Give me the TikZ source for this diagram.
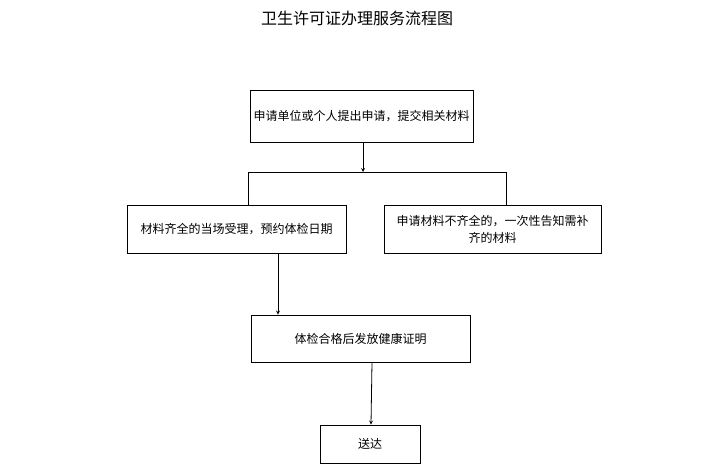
\documentclass[tikz,border=0pt]{standalone}
\usepackage{fontspec}
\setmainfont{Noto Sans CJK SC}
\usetikzlibrary{positioning}
\tikzset{
  stepbox/.style={draw, thick, minimum height=48pt, align=center, font=\fontsize{12}{17}\selectfont},
  arr/.style={thick,->,>=stealth}
}
\begin{document}
\begin{tikzpicture}[x=1pt,y=-1pt]
\useasboundingbox (0,0) rectangle (715,468);
\node (title) at (357,18) {\fontsize{16}{19}\selectfont 卫生许可证办理服务流程图};
\node[stepbox, minimum width=223pt, minimum height=52pt] (apply) at (361.5,116) {申请单位或个人提出申请，提交相关材料};
\node[stepbox, minimum width=219pt] (accept) at (236.5,229) {材料齐全的当场受理，预约体检日期};
\node[stepbox, minimum width=217pt] (notify) at (492.5,229) {申请材料不齐全的，一次性告知需补\\齐的材料};
\node[stepbox, minimum width=219pt, minimum height=47pt] (cert) at (360.5,338.5) {体检合格后发放健康证明};
\node[stepbox, minimum width=100pt, minimum height=38pt] (send) at (370,444) {送达};
\coordinate (split) at (363,172);
\draw[arr] (apply.south -| split) -- (split);
\draw[thick] (248,172) -- (506,172);
\draw[thick] (248,172) -- (248,205);
\draw[thick] (506,172) -- (506,205);
% 受理 -> 发证 -> 送达
\draw[arr] (accept.south -| 278,0) -- (cert.north -| 278,0);
\draw[arr] (cert.south -| 372,0) -- (send.north -| 371,0);
\end{tikzpicture}
\end{document}
